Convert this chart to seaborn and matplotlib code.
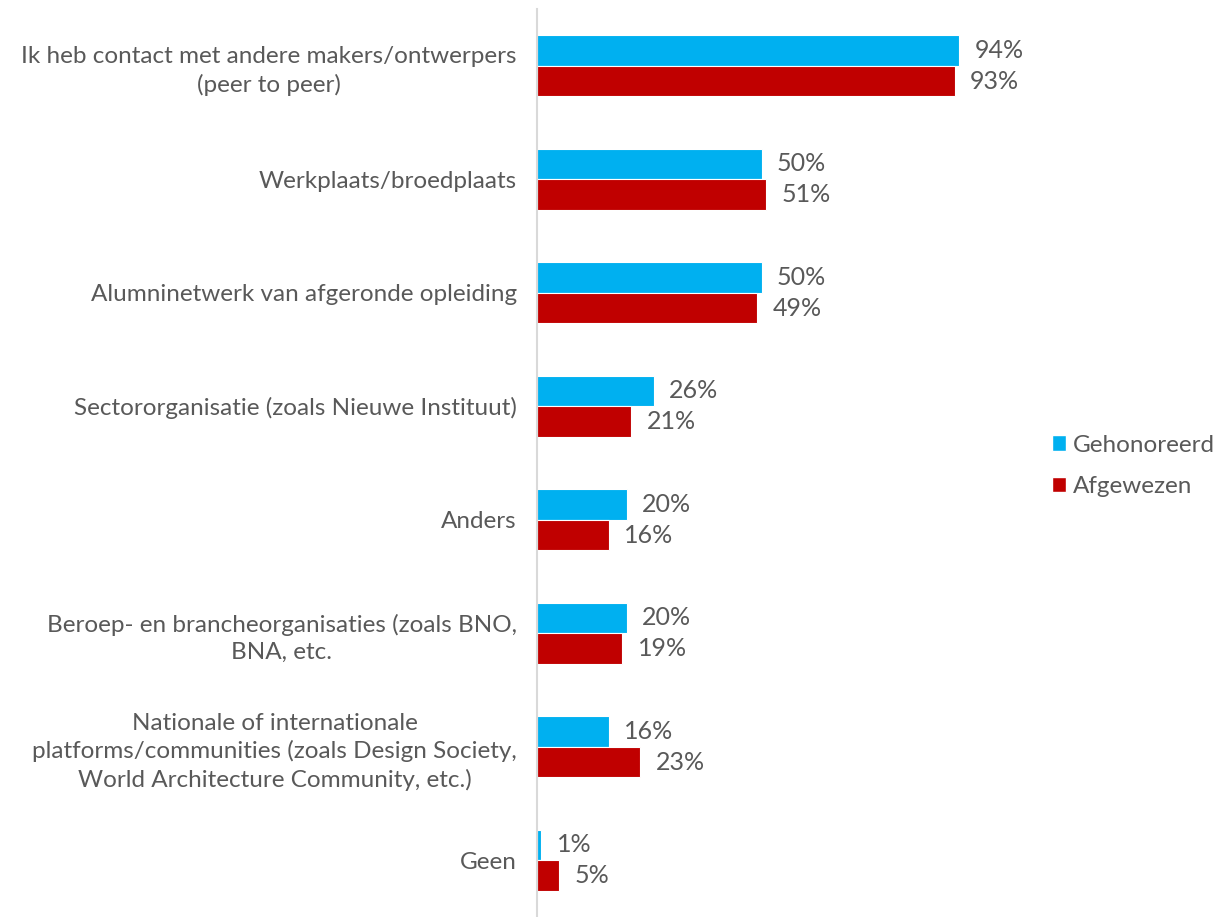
import matplotlib
matplotlib.use("Agg")
import matplotlib.pyplot as plt
import seaborn as sns
import pandas as pd
from matplotlib.patches import Patch

categories = [
    "Ik heb contact met andere makers/ontwerpers\n(peer to peer)",
    "Werkplaats/broedplaats",
    "Alumninetwerk van afgeronde opleiding",
    "Sectororganisatie (zoals Nieuwe Instituut)",
    "Anders",
    "Beroep- en brancheorganisaties (zoals BNO,\nBNA, etc.",
    "Nationale of internationale\nplatforms/communities (zoals Design Society,\nWorld Architecture Community, etc.)",
    "Geen",
]
gehonoreerd = [94, 50, 50, 26, 20, 20, 16, 1]
afgewezen = [93, 51, 49, 21, 16, 19, 23, 5]
series = ["Gehonoreerd", "Afgewezen"]
colors = ["#00B0F0", "#C00000"]

df = pd.DataFrame({
    "cat": categories * 2,
    "val": gehonoreerd + afgewezen,
    "serie": [series[0]] * len(categories) + [series[1]] * len(categories),
})

sns.set_theme(style="white")
plt.rcParams["font.family"] = ["Lato", "DejaVu Sans"]
txt = "#595959"

fig = plt.figure(figsize=(12.26, 9.17), dpi=100)
ax = fig.add_axes([537 / 1226, 0.0, 449 / 1226, 1 - 9 / 917])

sns.barplot(data=df, y="cat", x="val", hue="serie", order=categories,
            hue_order=series, palette=colors, orient="h", width=0.54,
            ax=ax, legend=False, saturation=1, edgecolor="white", linewidth=0.8)

ax.set_xlim(0, 100)
ax.set_ylim(len(categories) - 0.5, -0.5)
ax.set_xlabel("")
ax.set_ylabel("")
ax.set_xticks([])
for s in ["top", "right", "bottom"]:
    ax.spines[s].set_visible(False)
ax.spines["left"].set_color("#D9D9D9")
ax.spines["left"].set_linewidth(1.5)
ax.tick_params(axis="y", length=0, pad=14.5, labelsize=17.5, labelcolor=txt)
for lab in ax.get_yticklabels():
    lab.set_horizontalalignment("right")
    lab.set_multialignment("center")
    lab.set_linespacing(1.35)

for cont in ax.containers:
    ax.bar_label(cont, labels=[f"{int(round(v))}%" for v in cont.datavalues],
                 padding=11, fontsize=18, color=txt)

handles = [Patch(facecolor=c, label=s) for c, s in zip(colors, series)]
fig.legend(handles=handles, loc="center left", bbox_to_anchor=(1030 / 1226, 1 - 466 / 917),
           frameon=False, labelcolor=txt, handlelength=0.6,
           handleheight=0.6, handletextpad=0.25, labelspacing=0.85,
           prop={"size": 17.5})

fig.savefig("out.png", dpi=100)
